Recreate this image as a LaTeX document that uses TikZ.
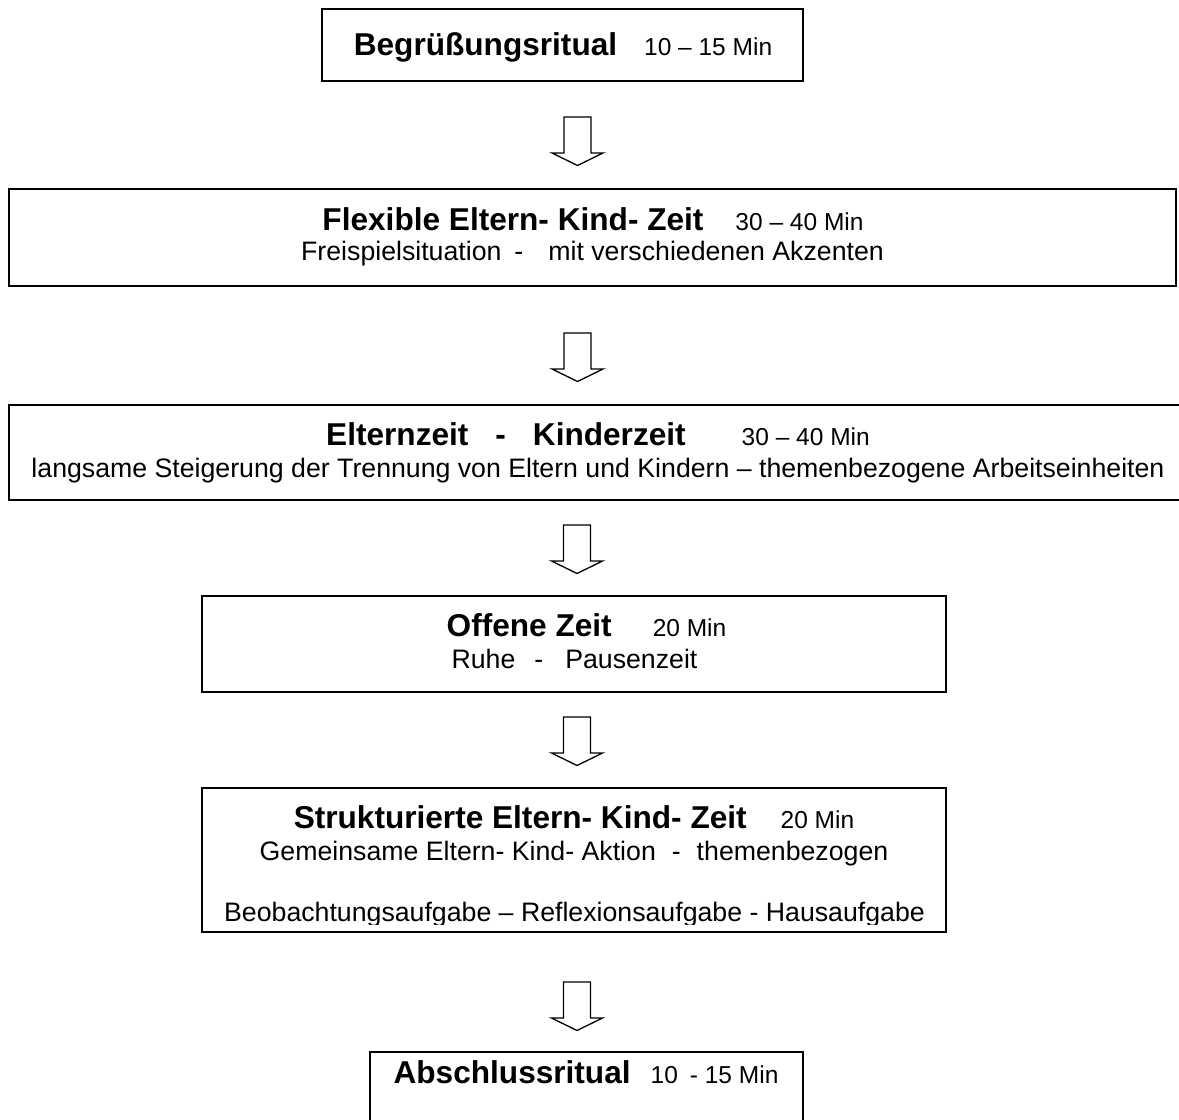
\documentclass[tikz,border=0pt]{standalone}
\usepackage{fontspec}
\setmainfont{Liberation Sans}
\newcommand{\flowB}{\fontsize{31.6}{36}\selectfont\bfseries}
\newcommand{\flowR}{\fontsize{26.7}{32}\selectfont\mdseries}
\newcommand{\flowS}{\fontsize{24.5}{28}\selectfont\mdseries}
\tikzset{
  box/.style={draw, line width=2pt, rectangle, inner sep=0pt, outer sep=0pt},
  txt/.style={inner sep=0pt, outer sep=0pt, anchor=base},
  barrow/.style={draw, line width=1.3pt, fill=white, line join=miter},
  blockarrow/.pic={\draw[barrow] (-13.5,0) -- (-13.5,-36) -- (-25.5,-36) -- (0,-48.5) -- (25.5,-36) -- (13.5,-36) -- (13.5,0) -- cycle;}
}
\begin{document}
\begin{tikzpicture}[x=1pt,y=1pt]
\useasboundingbox (0,0) rectangle (1179,-1120);
\fill[white] (0,0) rectangle (1179,-1120);
\clip (0,0) rectangle (1179,-1120);

% boxes
\node[box, minimum width=481pt, minimum height=72pt] (b1) at (562.5,-45) {};
\node[box, minimum width=1167pt, minimum height=97pt] (b2) at (592.5,-237.5) {};
\node[box, minimum width=1178pt, minimum height=95pt] (b3) at (598,-452.5) {};
\node[box, minimum width=744pt, minimum height=96pt] (b4) at (574,-644) {};
\node[box, minimum width=744pt, minimum height=144pt] (b5) at (574,-860) {};
\node[box, minimum width=433pt, minimum height=100pt] (b6) at (586.5,-1102) {};

% texts
\node[txt] (t1) at (563,-55) {{\flowB Begrüßungsritual}\hspace{27pt}{\flowS 10 – 15 Min}};

\node[txt] (t2a) at (593,-230) {{\flowB Flexible Eltern- Kind- Zeit}\hspace{32pt}{\flowS 30 – 40 Min}};
\node[txt] (t2b) at (592.5,-260) {\flowR Freispielsituation\hspace{13pt}-\hspace{25pt}mit verschiedenen Akzenten};

\node[txt] (t3a) at (598,-445) {{\flowB Elternzeit\hspace{27pt}-\hspace{27pt}Kinderzeit}\hspace{56pt}{\flowS 30 – 40 Min}};
\node[txt] (t3b) at (598,-477) {\flowR langsame Steigerung der Trennung von Eltern und Kindern – themenbezogene Arbeitseinheiten};

\node[txt] (t4a) at (586.5,-636) {{\flowB Offene Zeit}\hspace{41pt}{\flowS 20 Min}};
\node[txt] (t4b) at (574.5,-668) {\flowR Ruhe\hspace{19pt}-\hspace{22pt}Pausenzeit};

\node[txt] (t5a) at (574,-828) {{\flowB Strukturierte Eltern- Kind- Zeit}\hspace{34pt}{\flowS 20 Min}};
\node[txt] (t5b) at (574,-860) {\flowR Gemeinsame Eltern- Kind- Aktion\hspace{16pt}-\hspace{16pt}themenbezogen};
\begin{scope}
\clip (202,-788) rectangle (946,-924);
\node[txt] (t5c) at (574.5,-921) {\flowR Beobachtungsaufgabe – Reflexionsaufgabe - Hausaufgabe};
\end{scope}

\node[txt] (t6) at (586,-1083) {{\flowB Abschlussritual}\hspace{20pt}{\flowS 10\hspace{12pt}- 15 Min}};

% block arrows
\coordinate (a1) at (577.5,-117);
\coordinate (a2) at (577.5,-333);
\coordinate (a3) at (577,-525);
\coordinate (a4) at (577,-717);
\coordinate (a5) at (577,-982);
\pic at (a1) {blockarrow};
\pic at (a2) {blockarrow};
\pic at (a3) {blockarrow};
\pic at (a4) {blockarrow};
\pic at (a5) {blockarrow};
\end{tikzpicture}
\end{document}
